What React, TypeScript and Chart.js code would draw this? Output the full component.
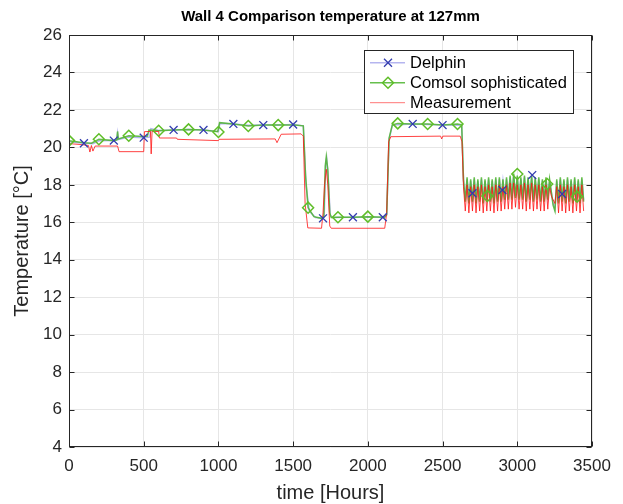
import React, { useEffect, useRef } from 'react';
import { Chart, registerables } from 'chart.js';
Chart.register(...registerables);

const titleText = 'Wall 4 Comparison temperature at 127mm';
const xLabel = 'time [Hours]';
const yLabel = 'Temperature [°C]';
const xTicks = [0, 500, 1000, 1500, 2000, 2500, 3000, 3500];
const yTicks = [4, 6, 8, 10, 12, 14, 16, 18, 20, 22, 24, 26];
const legendNames = ['Delphin', 'Comsol sophisticated', 'Measurement'];

// ---- Delphin line (before the daily-cycle period)
const delphinHours = [0, 100, 160, 200, 300, 320, 325, 330, 400, 500, 540, 548, 600, 700, 800, 900, 1000, 1010, 1100, 1200, 1300, 1400, 1500, 1568, 1586, 1608, 1650, 1700, 1708, 1718, 1724, 1734, 1748, 1760, 1900, 2100, 2126, 2142, 2164, 2300, 2500, 2628, 2640];
const delphinTemp = [20.3, 20.22, 20.2, 20.35, 20.36, 20.4, 20.75, 20.42, 20.55, 20.52, 20.55, 21.0, 20.9, 20.93, 20.95, 20.93, 20.85, 21.28, 21.25, 21.18, 21.19, 21.2, 21.22, 21.15, 18.0, 16.6, 16.25, 16.21, 16.4, 19.2, 19.45, 18.5, 16.4, 16.25, 16.27, 16.27, 16.4, 20.4, 21.2, 21.25, 21.19, 21.18, 18.2];

// ---- Comsol line (before the daily-cycle period)
const comsolHours = [0, 100, 150, 200, 300, 320, 325, 330, 400, 500, 525, 535, 600, 700, 800, 900, 995, 1008, 1100, 1200, 1300, 1400, 1508, 1568, 1583, 1600, 1639, 1690, 1705, 1715, 1722, 1732, 1745, 1755, 1800, 1900, 2000, 2113, 2126, 2142, 2164, 2200, 2300, 2400, 2500, 2600, 2628, 2640];
const comsolTemp = [20.36, 20.25, 20.22, 20.43, 20.36, 20.4, 20.85, 20.45, 20.62, 20.58, 20.6, 20.92, 20.89, 20.93, 20.96, 20.93, 20.84, 21.32, 21.25, 21.14, 21.19, 21.19, 21.19, 21.15, 18.5, 16.78, 16.3, 16.21, 16.3, 19.0, 19.5, 18.8, 16.5, 16.25, 16.27, 16.27, 16.3, 16.27, 16.4, 20.5, 21.2, 21.28, 21.25, 21.25, 21.19, 21.25, 21.2, 18.3];

// ---- Measurement line (before the daily-cycle period)
const measHours = [0, 80, 130, 140, 150, 160, 175, 325, 335, 500, 505, 545, 550, 556, 600, 605, 720, 725, 1000, 1005, 1380, 1392, 1420, 1553, 1568, 1580, 1598, 1690, 1700, 1710, 1722, 1732, 1745, 1755, 2113, 2126, 2139, 2154, 2487, 2494, 2502, 2618, 2630, 2640];
const measTemp = [20.2, 20.15, 20.1, 19.75, 20.1, 19.8, 20.07, 20.07, 19.77, 19.77, 20.84, 20.85, 19.65, 20.85, 20.85, 20.5, 20.5, 20.43, 20.36, 20.43, 20.45, 20.25, 20.7, 20.72, 20.6, 17.0, 15.7, 15.68, 16.5, 18.0, 18.83, 18.0, 15.8, 15.68, 15.68, 16.5, 20.3, 20.57, 20.6, 20.45, 20.6, 20.6, 20.3, 17.9];

// ---- Daily-cycle period (2640 h onwards, peaks and troughs)
const cycleHours = [2640, 2652, 2664, 2676, 2688, 2700, 2712, 2724, 2736, 2748, 2760, 2772, 2784, 2796, 2808, 2820, 2832, 2844, 2856, 2868, 2880, 2892, 2904, 2916, 2928, 2940, 2952, 2964, 2976, 2988, 3000, 3012, 3024, 3036, 3048, 3060, 3072, 3084, 3096, 3108, 3120, 3132, 3144, 3156, 3168, 3180, 3192, 3204, 3216, 3228, 3240, 3252, 3264, 3276, 3288, 3300, 3312, 3324, 3336, 3348, 3360, 3372, 3384, 3396, 3408, 3420, 3432, 3444];
const comsolCycle = [18.3, 17.1, 18.4, 17.0, 18.3, 17.1, 18.4, 17.0, 18.3, 17.1, 18.4, 17.0, 18.3, 17.1, 18.4, 17.1, 18.3, 17.0, 18.4, 17.1, 18.4, 17.1, 18.3, 17.2, 18.4, 17.2, 18.5, 17.2, 18.6, 17.3, 18.5, 17.2, 18.4, 17.2, 18.5, 17.1, 18.4, 17.2, 18.5, 17.1, 18.4, 17.2, 18.4, 17.1, 18.3, 17.1, 18.4, 17.2, 18.3, 17.6, 16.9, 16.6, 18.3, 17.0, 18.4, 17.1, 18.3, 17.0, 18.4, 17.1, 18.3, 17.0, 18.4, 17.1, 18.3, 17.0, 18.4, 17.1];
const delphinCycle = [18.2, 17.2, 18.3, 17.1, 18.2, 17.3, 18.3, 17.2, 18.2, 17.2, 18.3, 17.1, 18.2, 17.3, 18.3, 17.2, 18.2, 17.1, 18.3, 17.2, 18.3, 17.2, 18.2, 17.3, 18.3, 17.3, 18.4, 17.3, 18.5, 17.4, 18.4, 17.3, 18.3, 17.3, 18.4, 17.2, 18.3, 17.3, 18.4, 17.2, 18.3, 17.3, 18.3, 17.2, 18.2, 17.2, 18.3, 17.3, 18.2, 17.6, 17.0, 16.7, 18.2, 17.1, 18.3, 17.2, 18.2, 17.1, 18.3, 17.2, 18.2, 17.1, 18.3, 17.2, 18.2, 17.1, 18.3, 17.2];
const measCycle = [17.9, 16.6, 18.0, 16.5, 17.9, 16.6, 18.0, 16.5, 17.9, 16.6, 18.0, 16.5, 17.9, 16.6, 18.0, 16.6, 17.9, 16.5, 18.0, 16.6, 18.0, 16.6, 17.9, 16.7, 18.0, 16.7, 18.1, 16.7, 18.1, 16.8, 18.0, 16.7, 18.0, 16.7, 18.1, 16.6, 18.0, 16.7, 18.1, 16.6, 18.0, 16.7, 18.0, 16.6, 17.9, 16.6, 18.0, 16.7, 17.9, 17.4, 17.2, 17.0, 17.9, 16.5, 18.0, 16.6, 17.9, 16.5, 18.0, 16.6, 17.9, 16.5, 18.0, 16.6, 17.9, 16.5, 18.0, 16.6];

// ---- Markers
const delphinMarkHours = [100, 300, 500, 700, 900, 1100, 1300, 1500, 1700, 1900, 2100, 2300, 2500, 2700, 2900, 3100, 3300];
const delphinMarkTemp = [20.22, 20.36, 20.52, 20.93, 20.93, 21.25, 21.19, 21.22, 16.21, 16.27, 16.27, 21.25, 21.19, 17.55, 17.72, 18.52, 17.51];
const comsolMarkHours = [0, 200, 400, 600, 800, 1000, 1200, 1400, 1600, 1800, 2000, 2200, 2400, 2600, 2800, 3000, 3200, 3400];
const comsolMarkTemp = [20.36, 20.43, 20.62, 20.89, 20.96, 20.82, 21.14, 21.19, 16.78, 16.27, 16.3, 21.28, 21.25, 21.25, 17.4, 18.58, 18.04, 17.37];

const DELPHIN_LINE = 'rgba(120,120,225,0.55)';
const DELPHIN_MARK = 'rgb(50,60,175)';
const COMSOL_LINE = 'rgba(75,180,45,0.85)';
const COMSOL_MARK = 'rgb(95,190,40)';
const MEAS_LINE = 'rgba(255,20,20,0.8)';
const FONT = '"Liberation Sans", Arial, Helvetica, sans-serif';

const zip = (xs: number[], ys: number[]) => xs.map((x, i) => ({ x, y: ys[i] }));

const drawCross = (ctx: CanvasRenderingContext2D, x: number, y: number, h: number) => {
  ctx.beginPath();
  ctx.moveTo(x - h, y - h); ctx.lineTo(x + h, y + h);
  ctx.moveTo(x - h, y + h); ctx.lineTo(x + h, y - h);
  ctx.stroke();
};
const drawDiamond = (ctx: CanvasRenderingContext2D, x: number, y: number, r: number) => {
  ctx.beginPath();
  ctx.moveTo(x - r, y); ctx.lineTo(x, y - r); ctx.lineTo(x + r, y); ctx.lineTo(x, y + r); ctx.closePath();
  ctx.stroke();
};

const framePlugin = {
  id: 'matlabFrame',
  afterDraw(chart: any) {
    const { ctx, chartArea: a, scales } = chart;
    ctx.save();
    ctx.strokeStyle = '#262626';
    ctx.lineWidth = 1;
    const L = Math.round(a.left) + 0.5, R = Math.round(a.right) - 0.5;
    const T = Math.round(a.top) + 0.5, B = Math.round(a.bottom) - 0.5;
    ctx.strokeRect(L, T, R - L, B - T);
    ctx.beginPath();
    xTicks.forEach((v) => {
      const px = Math.round(scales.x.getPixelForValue(v)) + 0.5;
      ctx.moveTo(px, B); ctx.lineTo(px, B - 5);
      ctx.moveTo(px, T); ctx.lineTo(px, T + 5);
    });
    yTicks.forEach((v) => {
      const py = Math.round(scales.y.getPixelForValue(v)) + 0.5;
      ctx.moveTo(L, py); ctx.lineTo(L + 5, py);
      ctx.moveTo(R, py); ctx.lineTo(R - 5, py);
    });
    ctx.stroke();

    // title
    ctx.fillStyle = '#000';
    ctx.textAlign = 'center';
    ctx.textBaseline = 'middle';
    ctx.font = `bold 15px ${FONT}`;
    ctx.fillText(titleText, (a.left + a.right) / 2, 17);
    // axis labels
    ctx.fillStyle = '#262626';
    ctx.font = `20px ${FONT}`;
    ctx.fillText(xLabel, (a.left + a.right) / 2, 493);
    ctx.save();
    ctx.translate(22, (a.top + a.bottom) / 2);
    ctx.rotate(-Math.PI / 2);
    ctx.fillText(yLabel, 0, 0);
    ctx.restore();

    // legend
    const bx = 364.5, by = 50.5, bw = 209, bh = 63;
    ctx.fillStyle = '#fff';
    ctx.fillRect(bx, by, bw, bh);
    ctx.strokeStyle = '#262626';
    ctx.lineWidth = 1;
    ctx.strokeRect(bx, by, bw, bh);
    const rows = [62.7, 82.7, 102.7];
    const colors = [DELPHIN_LINE, COMSOL_LINE, 'rgba(255,60,60,0.7)'];
    rows.forEach((ry, i) => {
      ctx.strokeStyle = colors[i];
      ctx.lineWidth = i === 2 ? 1 : 1.5;
      ctx.beginPath();
      ctx.moveTo(370, ry); ctx.lineTo(405, ry);
      ctx.stroke();
      if (i === 0) { ctx.strokeStyle = DELPHIN_MARK; ctx.lineWidth = 1.3; drawCross(ctx, 388, ry, 4); }
      if (i === 1) { ctx.strokeStyle = COMSOL_MARK; ctx.lineWidth = 1.5; drawDiamond(ctx, 388, ry, 5.5); }
      ctx.fillStyle = '#000';
      ctx.textAlign = 'left';
      ctx.textBaseline = 'middle';
      ctx.font = `16.5px ${FONT}`;
      ctx.fillText(legendNames[i], 410, ry + 0.5);
    });
    ctx.restore();
  },
};

export default function App() {
  const ref = useRef<HTMLCanvasElement | null>(null);
  useEffect(() => {
    document.body.style.margin = '0';
    const canvas = ref.current!;
    const chart = new Chart(canvas, {
      type: 'line',
      data: {
        datasets: [
          { label: 'Delphin', data: zip([...delphinHours, ...cycleHours], [...delphinTemp, ...delphinCycle]), borderColor: DELPHIN_LINE, borderWidth: 1.5, pointRadius: 0, tension: 0, order: 6 },
          { label: 'Delphin markers', data: zip(delphinMarkHours, delphinMarkTemp), showLine: false, pointStyle: 'crossRot', pointRadius: 5.6, borderColor: DELPHIN_MARK, pointBorderWidth: 1.3, backgroundColor: 'transparent', order: 0 },
          { label: 'Comsol sophisticated', data: zip([...comsolHours, ...cycleHours], [...comsolTemp, ...comsolCycle]), borderColor: COMSOL_LINE, borderWidth: 1.5, pointRadius: 0, tension: 0, order: 4 },
          { label: 'Comsol markers', data: zip(comsolMarkHours, comsolMarkTemp), showLine: false, pointStyle: 'rectRot', pointRadius: 5.5, borderColor: COMSOL_MARK, pointBorderWidth: 1.5, backgroundColor: 'transparent', order: 0 },
          { label: 'Measurement', data: zip([...measHours, ...cycleHours], [...measTemp, ...measCycle]), borderColor: MEAS_LINE, borderWidth: 1, pointRadius: 0, tension: 0, order: 2 },
        ],
      },
      options: {
        responsive: false,
        animation: false,
        events: [],
        layout: { padding: { top: 35, right: 31, left: 0, bottom: 0 } },
        plugins: { legend: { display: false }, tooltip: { enabled: false }, title: { display: false } },
        scales: {
          x: {
            type: 'linear', min: 0, max: 3500,
            afterBuildTicks: (s: any) => { s.ticks = xTicks.map((v) => ({ value: v })); },
            afterFit: (s: any) => { s.height = 57; },
            grid: { color: '#e6e6e6', drawTicks: false, lineWidth: 1 },
            border: { display: false },
            ticks: { padding: 9, color: '#262626', font: { family: FONT, size: 17 }, maxRotation: 0, autoSkip: false, callback: (v: any) => String(v) },
          },
          y: {
            type: 'linear', min: 4, max: 26,
            afterBuildTicks: (s: any) => { s.ticks = yTicks.map((v) => ({ value: v })); },
            afterFit: (s: any) => { s.width = 69; },
            grid: { color: '#e6e6e6', drawTicks: false, lineWidth: 1 },
            border: { display: false },
            ticks: { padding: 7, color: '#262626', font: { family: FONT, size: 17 }, autoSkip: false, callback: (v: any) => String(v) },
          },
        },
      },
      plugins: [framePlugin],
    } as any);
    return () => chart.destroy();
  }, []);
  return (
    <div style={{ width: 623, height: 504 }}>
      <canvas ref={ref} width={623} height={504} style={{ width: 623, height: 504, display: 'block' }} />
    </div>
  );
}
